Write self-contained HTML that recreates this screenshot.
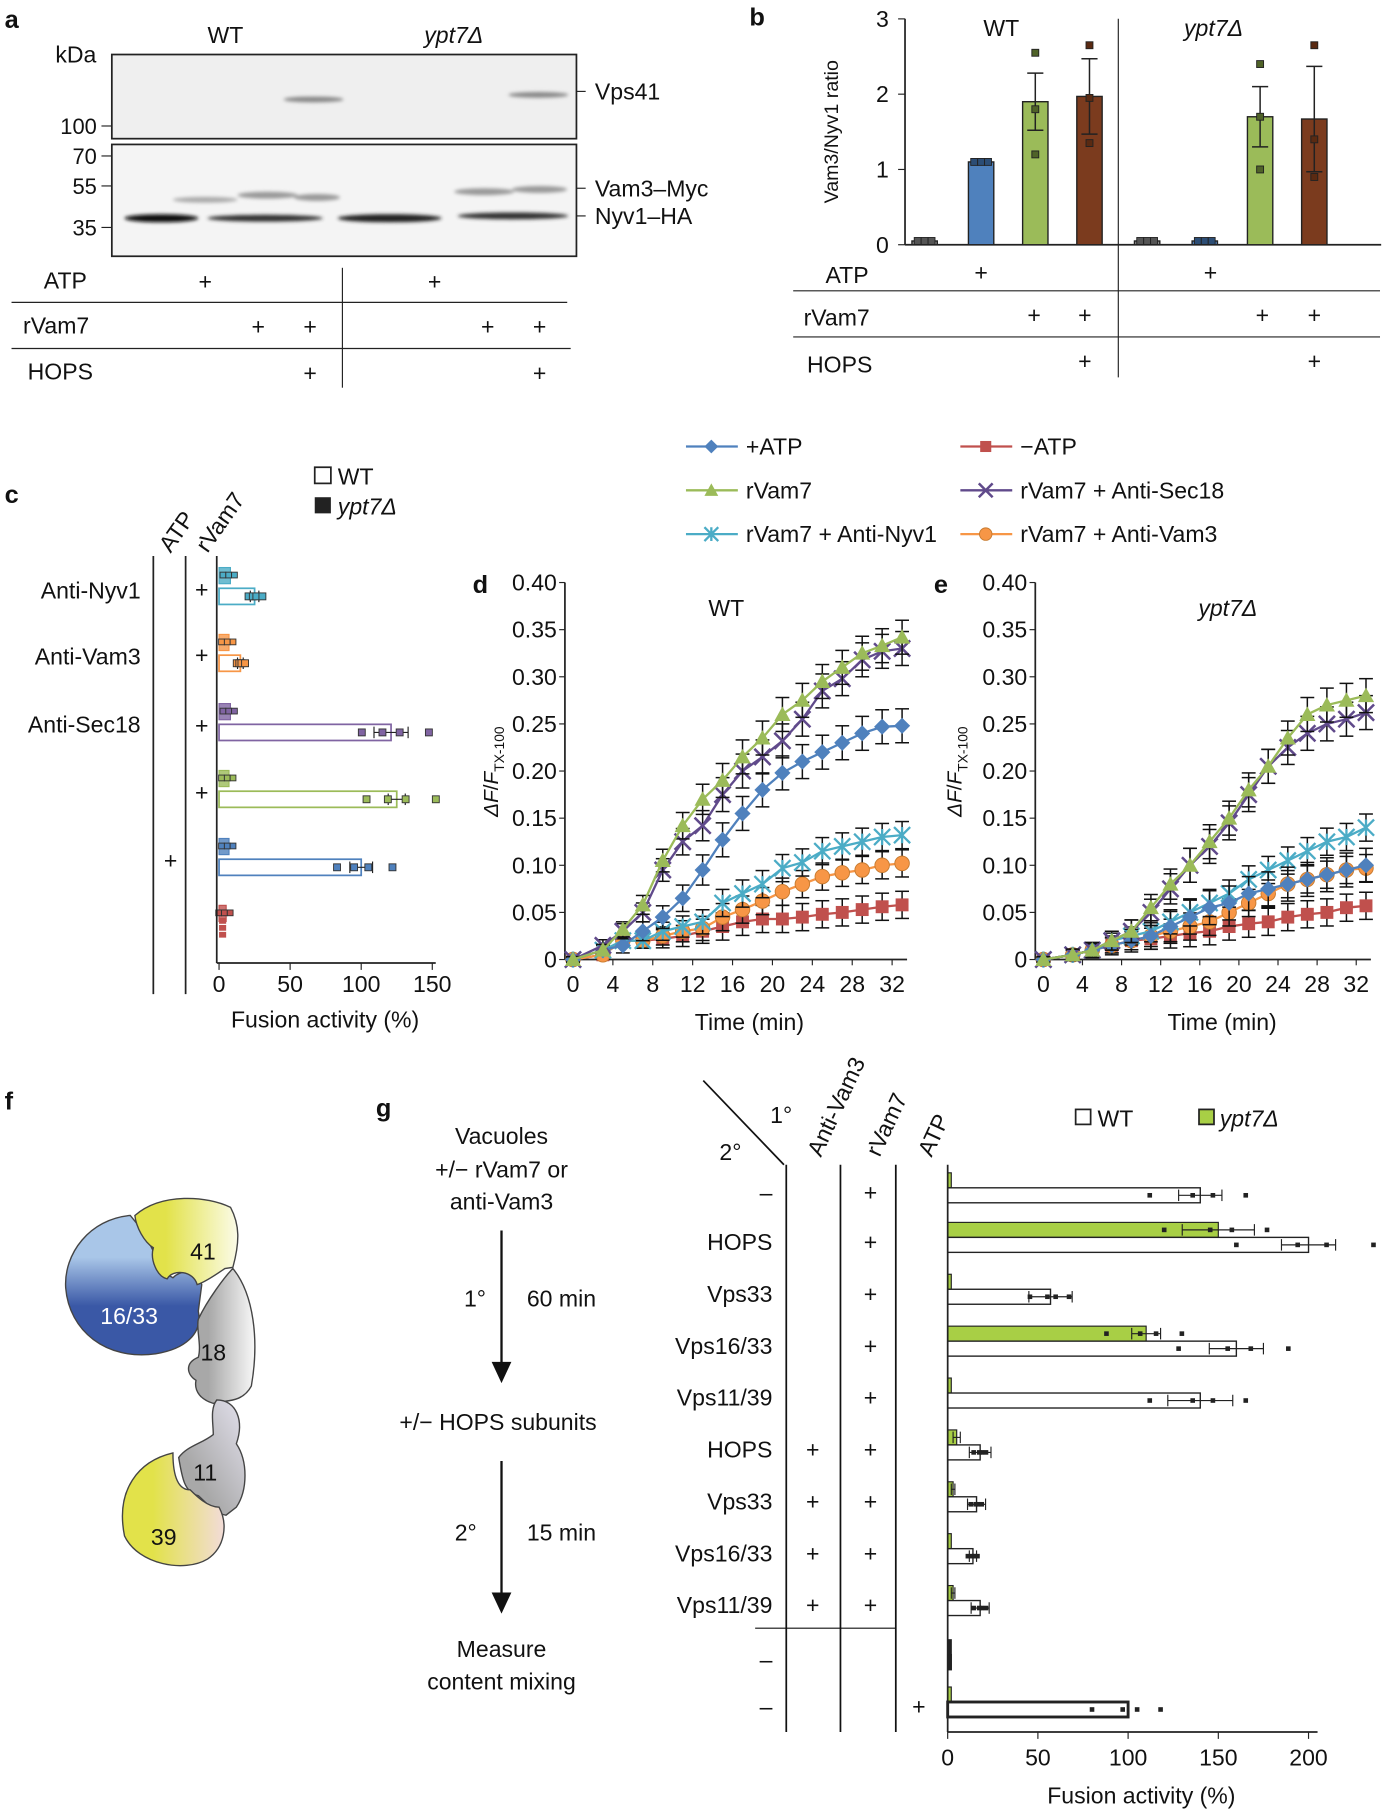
<!DOCTYPE html>
<html><head><meta charset="utf-8"><style>
html,body{margin:0;padding:0;background:#fff}
svg{display:block;font-family:"Liberation Sans",Arial,sans-serif}
</style></head><body>
<svg id="fig" width="1395" height="1813" viewBox="0 0 1210 1568" xmlns="http://www.w3.org/2000/svg">
<defs>
<linearGradient id="gBlue" x1="0" y1="0" x2="0" y2="1"><stop offset="0.3" stop-color="#a9c6e8"/><stop offset="0.65" stop-color="#3a58a6"/></linearGradient>
<linearGradient id="gYel" x1="0" y1="0" x2="1" y2="0"><stop offset="0.3" stop-color="#e2e24a"/><stop offset="1" stop-color="#fbfbe8"/></linearGradient>
<linearGradient id="gYel2" x1="0" y1="0" x2="1" y2="0"><stop offset="0.3" stop-color="#e2e24a"/><stop offset="1" stop-color="#f2dcd8"/></linearGradient>
<linearGradient id="gGrey" x1="0" y1="0" x2="1" y2="0"><stop offset="0.3" stop-color="#a8a8a8"/><stop offset="1" stop-color="#f8f8f8"/></linearGradient>
<linearGradient id="gGrey2" x1="0" y1="1" x2="1" y2="0"><stop offset="0.3" stop-color="#a8a8a8"/><stop offset="1" stop-color="#e4e2ee"/></linearGradient>
<filter id="blur"><feGaussianBlur stdDeviation="1.5"/></filter>
</defs>
<g font-size="20" fill="#111">
<!-- panel a -->
<text x="4" y="22" font-weight="bold" font-size="22">a</text>
<text x="180" y="35">WT</text>
<text x="368" y="35" font-style="italic">ypt7Δ</text>
<text x="48" y="52">kDa</text>
<rect x="97" y="45" width="403" height="73" fill="#efefef" stroke="#222" stroke-width="1.5"/>
<rect x="97" y="123" width="403" height="97" fill="#f4f4f4" stroke="#222" stroke-width="1.5"/>
<g filter="url(#blur)">
<ellipse cx="272" cy="84" rx="26" ry="2.5" fill="#888"/><ellipse cx="467" cy="80" rx="26" ry="2.5" fill="#888"/>
<ellipse cx="178" cy="171" rx="28" ry="2.5" fill="#aaa"/><ellipse cx="232" cy="167" rx="26" ry="3" fill="#999"/><ellipse cx="275" cy="169" rx="20" ry="3" fill="#999"/>
<ellipse cx="420" cy="164" rx="26" ry="3" fill="#999"/><ellipse cx="468" cy="162" rx="24" ry="3" fill="#999"/>
<ellipse cx="140" cy="187" rx="32" ry="3.5" fill="#111"/><ellipse cx="230" cy="187" rx="50" ry="3" fill="#333"/><ellipse cx="338" cy="187" rx="45" ry="3.5" fill="#222"/><ellipse cx="445" cy="185" rx="48" ry="3" fill="#333"/>
</g>
<g font-size="19" text-anchor="end">
<text x="84" y="114">100</text><text x="84" y="140">70</text><text x="84" y="166">55</text><text x="84" y="202">35</text>
</g>
<g stroke="#222"><line x1="88" y1="107" x2="97" y2="107"/><line x1="88" y1="133" x2="97" y2="133"/><line x1="88" y1="159" x2="97" y2="159"/><line x1="88" y1="195" x2="97" y2="195"/>
<line x1="500" y1="77" x2="508" y2="77"/><line x1="500" y1="161" x2="508" y2="161"/><line x1="500" y1="185" x2="508" y2="185"/></g>
<text x="516" y="84">Vps41</text>
<text x="516" y="168">Vam3–Myc</text>
<text x="516" y="192">Nyv1–HA</text>
<g>
<text x="38" y="248">ATP</text><text x="20" y="287">rVam7</text><text x="24" y="327">HOPS</text>
<g text-anchor="middle"><text x="178" y="249">+</text><text x="377" y="249">+</text>
<text x="224" y="288">+</text><text x="269" y="288">+</text><text x="423" y="288">+</text><text x="468" y="288">+</text>
<text x="269" y="328">+</text><text x="468" y="328">+</text></g>
<line x1="10" y1="260" x2="492" y2="260" stroke="#222"/><line x1="10" y1="300" x2="495" y2="300" stroke="#222"/><line x1="297" y1="230" x2="297" y2="334" stroke="#222"/>
</g>
<!-- panel b -->
<text x="650" y="20" font-weight="bold" font-size="22">b</text>
<g id="chartB"></g>
<text transform="translate(727,112) rotate(-90)" text-anchor="middle" font-size="17">Vam3/Nyv1 ratio</text>
<text x="853" y="29">WT</text>
<text x="1027" y="29" font-style="italic">ypt7Δ</text>
<g>
<text x="716" y="243">ATP</text><text x="697" y="280">rVam7</text><text x="700" y="321">HOPS</text>
<g text-anchor="middle"><text x="851" y="241">+</text><text x="1050" y="241">+</text>
<text x="897" y="278">+</text><text x="941" y="278">+</text><text x="1095" y="278">+</text><text x="1140" y="278">+</text>
<text x="941" y="318">+</text><text x="1140" y="318">+</text></g>
<line x1="688" y1="250" x2="1197" y2="250" stroke="#222"/><line x1="688" y1="290" x2="1197" y2="290" stroke="#222"/>
<line x1="970" y1="14" x2="970" y2="325" stroke="#222"/>
</g>
<!-- panel c -->
<text x="4" y="434" font-weight="bold" font-size="22">c</text>
<rect x="273" y="403" width="14" height="14" fill="#fff" stroke="#222" stroke-width="1.5"/>
<text x="293" y="418">WT</text>
<rect x="273" y="429" width="14" height="14" fill="#222"/>
<text x="293" y="444" font-style="italic">ypt7Δ</text>
<text transform="translate(148,478) rotate(-55)">ATP</text>
<text transform="translate(180,478) rotate(-55)">rVam7</text>
<g text-anchor="end">
<text x="122" y="517">Anti-Nyv1</text><text x="122" y="574">Anti-Vam3</text><text x="122" y="633">Anti-Sec18</text>
</g>
<g text-anchor="middle">
<text x="175" y="516">+</text><text x="175" y="573">+</text><text x="175" y="634">+</text><text x="175" y="692">+</text><text x="148" y="751">+</text>
</g>
<line x1="133" y1="480" x2="133" y2="860" stroke="#222" stroke-width="1.5"/>
<line x1="161" y1="480" x2="161" y2="860" stroke="#222" stroke-width="1.5"/>
<g id="chartC"></g>
<text x="282" y="889" text-anchor="middle">Fusion activity (%)</text>
<g id="legendDE"></g>
<text x="410" y="512" font-weight="bold" font-size="22">d</text>
<text x="810" y="512" font-weight="bold" font-size="22">e</text>
<g id="chartD"></g>
<g id="chartE"></g>
<text x="630" y="532" text-anchor="middle">WT</text>
<text x="1065" y="532" text-anchor="middle" font-style="italic">ypt7Δ</text>
<text transform="translate(432,667) rotate(-90)" text-anchor="middle" font-size="18"><tspan font-style="italic">ΔF</tspan>/<tspan font-style="italic">F</tspan><tspan font-size="12" dy="5">TX-100</tspan></text>
<text transform="translate(834,667) rotate(-90)" text-anchor="middle" font-size="18"><tspan font-style="italic">ΔF</tspan>/<tspan font-style="italic">F</tspan><tspan font-size="12" dy="5">TX-100</tspan></text>
<text x="650" y="891" text-anchor="middle">Time (min)</text>
<text x="1060" y="891" text-anchor="middle">Time (min)</text>
<!-- panel f -->
<text x="4" y="960" font-weight="bold" font-size="22">f</text>
<g stroke="#444" stroke-width="1.2">
<path d="M113,1052 C78,1055 55,1085 57,1115 C60,1152 92,1178 135,1172 C160,1168 176,1155 172,1135 L175,1112 C170,1100 158,1098 150,1106 C142,1102 136,1094 134,1085 C128,1072 120,1060 113,1052 Z" fill="url(#gBlue)"/>
<path d="M117,1052 C140,1032 180,1035 200,1045 C208,1060 208,1075 202,1097 L195,1098 C185,1105 177,1110 171,1112 C168,1100 150,1098 145,1107 C136,1105 130,1090 133,1080 C125,1075 118,1062 117,1052 Z" fill="url(#gYel)"/>
<path d="M202,1098 C220,1120 225,1160 218,1200 C210,1215 195,1212 185,1215 C175,1212 168,1205 170,1195 C162,1190 160,1180 172,1175 C175,1165 170,1150 172,1142 C180,1125 195,1105 202,1098 Z" fill="url(#gGrey)"/>
<path d="M188,1212 C205,1212 212,1230 205,1250 C215,1265 215,1290 205,1305 L196,1312 C185,1310 178,1300 172,1295 C160,1292 158,1280 155,1262 C162,1252 175,1250 185,1242 C185,1232 182,1220 188,1212 Z" fill="url(#gGrey2)"/>
<path d="M150,1258 C120,1265 100,1290 108,1330 C120,1355 160,1362 180,1350 C195,1340 198,1320 190,1305 C180,1305 170,1295 165,1290 C155,1290 150,1280 150,1258 Z" fill="url(#gYel2)"/>
</g>
<g text-anchor="middle" font-size="20">
<text x="176" y="1090">41</text><text x="112" y="1146" fill="#fff">16/33</text><text x="185" y="1178">18</text><text x="178" y="1282">11</text><text x="142" y="1338">39</text>
</g>
<!-- panel g -->
<text x="326" y="966" font-weight="bold" font-size="22">g</text>
<g text-anchor="middle">
<text x="435" y="990">Vacuoles</text><text x="435" y="1019">+/− rVam7 or</text><text x="435" y="1047">anti-Vam3</text>
<text x="412" y="1131">1°</text><text x="487" y="1131">60 min</text>
<text x="432" y="1238">+/− HOPS subunits</text>
<text x="404" y="1334">2°</text><text x="487" y="1334">15 min</text>
<text x="435" y="1435">Measure</text><text x="435" y="1463">content mixing</text>
</g>
<g stroke="#111" stroke-width="2">
<line x1="435" y1="1065" x2="435" y2="1185"/><polygon points="428,1180 442,1180 435,1195" fill="#111"/>
<line x1="435" y1="1265" x2="435" y2="1385"/><polygon points="428,1380 442,1380 435,1395" fill="#111"/>
</g>
<line x1="610" y1="935" x2="680" y2="1008" stroke="#111" stroke-width="1.5"/>
<text x="668" y="972">1°</text>
<text x="624" y="1004">2°</text>
<text transform="translate(712,1002) rotate(-65)">Anti-Vam3</text>
<text transform="translate(763,1002) rotate(-65)">rVam7</text>
<text transform="translate(808,1002) rotate(-65)">ATP</text>
<line x1="682" y1="1008" x2="682" y2="1500" stroke="#111" stroke-width="1.5"/>
<line x1="729" y1="1008" x2="729" y2="1500" stroke="#111" stroke-width="1.5"/>
<line x1="777" y1="1008" x2="777" y2="1500" stroke="#111" stroke-width="1.5"/>
<line x1="655" y1="1410" x2="777" y2="1410" stroke="#111" stroke-width="1"/>
<rect x="933" y="960" width="13" height="13" fill="#fff" stroke="#222" stroke-width="1.5"/>
<text x="952" y="975">WT</text>
<rect x="1040" y="960" width="13" height="13" fill="#a8cf45" stroke="#222" stroke-width="1.5"/>
<text x="1058" y="975" font-style="italic">ypt7Δ</text>
<g id="chartG"></g>
<text x="990" y="1562" text-anchor="middle">Fusion activity (%)</text>
</g>
<script>
var NS="http://www.w3.org/2000/svg";
function mk(p,tag,a){var e=document.createElementNS(NS,tag);for(var k in a)e.setAttribute(k,a[k]);p.appendChild(e);return e;}

// ---- panel b data ----
var bCats=["WT-none","WT-ATP","WT-rVam7","WT-rVam7-HOPS","ypt7-none","ypt7-ATP","ypt7-rVam7","ypt7-rVam7-HOPS"];
var bValues=[0.05,1.1,1.9,1.97,0.05,0.05,1.7,1.67];
var bErrors=[0,0,0.38,0.5,0,0,0.4,0.7];
var bPts1=[0.05,1.1,2.55,2.65,0.05,0.05,2.4,2.65];
var bPts2=[0.05,1.1,1.8,1.95,0.05,0.05,1.7,1.4];
var bPts3=[0.05,1.1,1.2,1.35,0.05,0.05,1.0,0.9];
var bTicks=[0,1,2,3];
var bColors=["#888","#4f81bd","#9bbb59","#7b3b1e","#888","#4f81bd","#9bbb59","#7b3b1e"];
var bPtColors=["#555","#2c4d75","#4f6228","#5a2a12","#555","#2c4d75","#4f6228","#5a2a12"];
(function(){
 var g=document.getElementById("chartB");
 var x0=785,y0=210,ppu=65.3;
 function yb(v){return y0-v*ppu;}
 var cx=[802,851,898,945,995,1045,1093,1140];
 var ax=mk(g,"line",{x1:x0,y1:14,x2:x0,y2:y0,stroke:"#222","stroke-width":1.5});
 
 
 mk(g,"line",{x1:x0,y1:y0,x2:1198,y2:y0,stroke:"#222","stroke-width":1.5});
 bTicks.forEach(function(t){
  mk(g,"line",{x1:x0-6,y1:yb(t),x2:x0,y2:yb(t),stroke:"#222"});
  var tx=mk(g,"text",{x:x0-14,y:yb(t)+7,"text-anchor":"end"});tx.textContent=t;
  
  
 });
 bValues.forEach(function(v,i){
  var w=22;
  var r=mk(g,"rect",{x:cx[i]-w/2,y:yb(v),width:w,height:v*ppu,fill:bColors[i],stroke:"#222","stroke-width":1.2});
  
  
  if(bErrors[i]>0){
   var t=yb(v+bErrors[i]),b=yb(v-bErrors[i]);
   mk(g,"line",{x1:cx[i],y1:t,x2:cx[i],y2:b,stroke:"#222","stroke-width":1.3});
   mk(g,"line",{x1:cx[i]-7,y1:t,x2:cx[i]+7,y2:t,stroke:"#222","stroke-width":1.3});
   mk(g,"line",{x1:cx[i]-7,y1:b,x2:cx[i]+7,y2:b,stroke:"#222","stroke-width":1.3});
  }
  [bPts1[i],bPts2[i],bPts3[i]].forEach(function(p,j){
   var dx=(i%4<2)?(j-1)*6:0;
   mk(g,"rect",{x:cx[i]+dx-3,y:yb(p)-3,width:6,height:6,fill:bPtColors[i],stroke:"#222","stroke-width":0.8});
  });
 });
})();

// ---- panel c data ----
var cRows=["Anti-Nyv1","Anti-Vam3","Anti-Sec18","rVam7","ATP","minus-ATP"];
var cWT=[25,15,121,125,100,5];
var cYpt=[8,7,8,7,7,5];
var cWTerr=[3,2,12,6,8,1];
var cTicks=[0,50,100,150];
var cColors=["#4bacc6","#f79646","#8064a2","#9bbb59","#4f81bd","#c0504d"];
(function(){
 var g=document.getElementById("chartC");
 var x0=190,pp=1.233;
 function xc(v){return x0+v*pp;}
 var rowY=[497,555,615,673,732,790];
 rowY.forEach(function(y,i){
  var r1=mk(g,"rect",{x:x0,y:y-7,width:cYpt[i]*pp,height:14,fill:cColors[i],"fill-opacity":0.8,stroke:cColors[i]});
  
  
  for(var k=0;k<3;k++)mk(g,"rect",{x:xc(cYpt[i])-9+k*5,y:y-3,width:5,height:5,fill:cColors[i],stroke:"#333","stroke-width":0.8});
  if(i<5){
   var r2=mk(g,"rect",{x:x0,y:y+11,width:cWT[i]*pp,height:14,fill:"#fff",stroke:cColors[i],"stroke-width":1.5});
   
   
   var e1=xc(cWT[i]-cWTerr[i]),e2=xc(cWT[i]+cWTerr[i]),ym=y+18;
   mk(g,"line",{x1:e1,y1:ym,x2:e2,y2:ym,stroke:"#222"});
   mk(g,"line",{x1:e1,y1:ym-5,x2:e1,y2:ym+5,stroke:"#222"});
   mk(g,"line",{x1:e2,y1:ym-5,x2:e2,y2:ym+5,stroke:"#222"});
   [0.83,0.95,1.05,1.22].forEach(function(f){
    mk(g,"rect",{x:xc(cWT[i]*f)-3,y:ym-3,width:6,height:6,fill:cColors[i],stroke:"#333","stroke-width":0.8});
   });
  } else {
   for(var k=0;k<3;k++)mk(g,"rect",{x:x0,y:y+4+k*6,width:cWT[i]*pp,height:5,fill:cColors[i]});
  }
 });
 mk(g,"line",{x1:x0-2,y1:480,x2:x0-2,y2:833,stroke:"#222","stroke-width":1.5});
 mk(g,"line",{x1:x0-2,y1:833,x2:xc(150)+3,y2:833,stroke:"#222","stroke-width":1.5});
 cTicks.forEach(function(t){
  mk(g,"line",{x1:xc(t),y1:833,x2:xc(t),y2:839,stroke:"#222"});
  var tx=mk(g,"text",{x:xc(t),y:858,"text-anchor":"middle"});tx.textContent=t;
  
  
 });
})();

// ---- panels d/e data ----
var times=[0,3,5,7,9,11,13,15,17,19,21,23,25,27,29,31,33];
var seriesNames=["+ATP","rVam7","rVam7 + Anti-Nyv1","−ATP","rVam7 + Anti-Sec18","rVam7 + Anti-Vam3"];
var dATP=[0,0.01,0.015,0.03,0.045,0.065,0.095,0.127,0.155,0.18,0.198,0.21,0.22,0.23,0.24,0.247,0.248];
var dVam7=[0,0.01,0.032,0.058,0.105,0.142,0.17,0.19,0.215,0.235,0.26,0.275,0.295,0.31,0.325,0.333,0.342];
var dNyv1=[0,0.01,0.02,0.02,0.03,0.035,0.04,0.06,0.07,0.08,0.097,0.103,0.115,0.12,0.125,0.13,0.132];
var dNoATP=[0,0.005,0.02,0.02,0.022,0.025,0.03,0.035,0.04,0.043,0.043,0.045,0.048,0.05,0.053,0.056,0.058];
var dSec18=[0,0.015,0.03,0.05,0.095,0.125,0.142,0.175,0.2,0.215,0.232,0.255,0.285,0.298,0.318,0.327,0.33];
var dVam3=[0,0.005,0.02,0.02,0.025,0.03,0.033,0.045,0.053,0.062,0.072,0.08,0.088,0.092,0.095,0.1,0.102];
var eATP=[0,0.005,0.01,0.015,0.02,0.025,0.035,0.045,0.055,0.06,0.07,0.075,0.08,0.085,0.09,0.095,0.1];
var eVam7=[0,0.005,0.01,0.02,0.03,0.055,0.08,0.1,0.125,0.15,0.18,0.205,0.235,0.26,0.27,0.275,0.28];
var eNyv1=[0,0.005,0.01,0.02,0.025,0.03,0.04,0.05,0.06,0.07,0.085,0.095,0.105,0.115,0.125,0.13,0.14];
var eNoATP=[0,0.005,0.01,0.015,0.02,0.022,0.025,0.028,0.03,0.035,0.038,0.04,0.045,0.048,0.05,0.055,0.057];
var eSec18=[0,0.005,0.01,0.02,0.03,0.05,0.075,0.1,0.12,0.145,0.175,0.205,0.225,0.24,0.25,0.255,0.262];
var eVam3=[0,0.005,0.01,0.015,0.02,0.025,0.03,0.035,0.04,0.05,0.06,0.07,0.08,0.085,0.09,0.095,0.097];
var deErr=[0.003,0.006,0.008,0.01,0.012,0.014,0.016,0.018,0.018,0.018,0.018,0.018,0.018,0.018,0.018,0.018,0.018];
var yTicksDE=[0,0.05,0.10,0.15,0.20,0.25,0.30,0.35,0.40];
var xTicksDE=[0,4,8,12,16,20,24,28,32];
var deColors=["#4f81bd","#9bbb59","#4bacc6","#c0504d","#604a8b","#f79646"];
var deMarkers=["diamond","triangle","star","square","x","circle"];
function marker(g,type,x,y,c,s){
 s=s||7;var e;
 if(type=="diamond")e=mk(g,"polygon",{points:[x,y-s,x+s,y,x,y+s,x-s,y].join(","),fill:c});
 else if(type=="triangle")e=mk(g,"polygon",{points:[x,y-s,x+s,y+s*0.8,x-s,y+s*0.8].join(","),fill:c});
 else if(type=="square")e=mk(g,"rect",{x:x-s*0.8,y:y-s*0.8,width:s*1.6,height:s*1.6,fill:c});
 else if(type=="circle")e=mk(g,"circle",{cx:x,cy:y,r:s*0.9,fill:c,stroke:"#c77a2e","stroke-width":0.8});
 else if(type=="x"){e=mk(g,"path",{d:"M"+(x-s)+","+(y-s)+"L"+(x+s)+","+(y+s)+"M"+(x-s)+","+(y+s)+"L"+(x+s)+","+(y-s),stroke:c,"stroke-width":2.2,fill:"none"});}
 else {e=mk(g,"path",{d:"M"+(x-s)+","+(y-s)+"L"+(x+s)+","+(y+s)+"M"+(x-s)+","+(y+s)+"L"+(x+s)+","+(y-s)+"M"+x+","+(y-s)+"L"+x+","+(y+s),stroke:c,"stroke-width":2,fill:"none"});}
 return e;
}
function drawDE(id,ax,x0,xpp,sets){
 var g=document.getElementById(id);
 var y0=830,ypp=817.5;
 function X(t){return x0+t*xpp;}
 function Y(v){return y0-v*ypp;}
 mk(g,"line",{x1:ax,y1:503,x2:ax,y2:y0,stroke:"#222","stroke-width":1.5});
 mk(g,"line",{x1:ax,y1:y0,x2:X(33.5),y2:y0,stroke:"#222","stroke-width":1.5});
 yTicksDE.forEach(function(t){
  mk(g,"line",{x1:ax-5,y1:Y(t),x2:ax,y2:Y(t),stroke:"#222"});
  var tx=mk(g,"text",{x:ax-7,y:Y(t)+7,"text-anchor":"end"});tx.textContent=t==0?"0":t.toFixed(2);
  
  
 });
 xTicksDE.forEach(function(t){
  mk(g,"line",{x1:X(t),y1:y0,x2:X(t),y2:y0+5,stroke:"#222"});
  var tx=mk(g,"text",{x:X(t),y:y0+28,"text-anchor":"middle"});tx.textContent=t;
  
  
 });
 var order=[3,5,2,0,4,1];
 order.forEach(function(si){
  var vals=sets[si];
  var sg=mk(g,"g",{});
  
  
  vals.forEach(function(v,i){
   var e=deErr[i]*(si==1||si==4||si==0?1:0.8);
   var xx=X(times[i]);
   mk(sg,"line",{x1:xx,y1:Y(v+e),x2:xx,y2:Y(v-e),stroke:"#111","stroke-width":1.3});
   mk(sg,"line",{x1:xx-6,y1:Y(v+e),x2:xx+6,y2:Y(v+e),stroke:"#111","stroke-width":1.3});
   mk(sg,"line",{x1:xx-6,y1:Y(v-e),x2:xx+6,y2:Y(v-e),stroke:"#111","stroke-width":1.3});
  });
  var pts=vals.map(function(v,i){return X(times[i])+","+Y(v);}).join(" ");
  mk(sg,"polyline",{points:pts,fill:"none",stroke:deColors[si],"stroke-width":2});
  vals.forEach(function(v,i){marker(sg,deMarkers[si],X(times[i]),Y(v),deColors[si]);});
 });
}
drawDE("chartD",490,497,8.65,[dATP,dVam7,dNyv1,dNoATP,dSec18,dVam3]);
drawDE("chartE",898,905,8.48,[eATP,eVam7,eNyv1,eNoATP,eSec18,eVam3]);
(function(){
 var g=document.getElementById("legendDE");
 var pos=[[595,385],[595,423],[595,461],[833,385],[833,423],[833,461]];
 seriesNames.forEach(function(n,i){
  var p=pos[i];
  mk(g,"line",{x1:p[0],y1:p[1],x2:p[0]+45,y2:p[1],stroke:deColors[i],"stroke-width":2});
  marker(g,deMarkers[i],p[0]+22,p[1],deColors[i],6);
  var t=mk(g,"text",{x:p[0]+52,y:p[1]+7});t.textContent=n;
  
  
 });
})();

// ---- panel g data ----
var gRows=["–","HOPS","Vps33","Vps16/33","Vps11/39","HOPS","Vps33","Vps16/33","Vps11/39","–","–"];
var gWT=[140,200,57,160,140,18,16,14,18,2,100];
var gYpt=[2,150,2,110,2,5,3,2,3,2,2];
var gWTerr=[12,15,12,15,18,6,5,2,5,0,0];
var gYptErr=[0,20,0,8,0,2,1,0,1,0,0];
var gTicks=[0,50,100,150,200];
(function(){
 var g=document.getElementById("chartG");
 var x0=822,pp=1.565;
 function X(v){return x0+v*pp;}
 var rowY=[1032,1075,1120,1165,1210,1255,1300,1345,1390,1437,1478];
 var rvam=[1,1,1,1,1,1,1,1,1,0,0],anti=[0,0,0,0,0,1,1,1,1,0,0],atp=[0,0,0,0,0,0,0,0,0,0,1];
 rowY.forEach(function(y,i){
  var lab=mk(g,"text",{x:670,y:y+7,"text-anchor":"end"});lab.textContent=gRows[i];
  
  
  if(rvam[i]){var t=mk(g,"text",{x:755,y:y+7,"text-anchor":"middle"});t.textContent="+";}
  if(anti[i]){var t2=mk(g,"text",{x:705,y:y+7,"text-anchor":"middle"});t2.textContent="+";}
  if(atp[i]){var t3=mk(g,"text",{x:797,y:y+7,"text-anchor":"middle"});t3.textContent="+";}
  var yb=mk(g,"rect",{x:x0,y:y-17,width:gYpt[i]*pp,height:13,fill:i==9?"#222":"#a8cf45",stroke:"#222","stroke-width":1});
  
  
  var wb=mk(g,"rect",{x:x0,y:y-4,width:gWT[i]*pp,height:13,fill:i==9?"#222":"#fff",stroke:"#222","stroke-width":i==10?2.5:1.2});
  
  
  [[gWT[i],gWTerr[i],y+2.5],[gYpt[i],gYptErr[i],y-10.5]].forEach(function(b){
   if(b[1]>0){var a=X(b[0]-b[1]),c=X(b[0]+b[1]);
    mk(g,"line",{x1:a,y1:b[2],x2:c,y2:b[2],stroke:"#222"});
    mk(g,"line",{x1:a,y1:b[2]-5,x2:a,y2:b[2]+5,stroke:"#222"});
    mk(g,"line",{x1:c,y1:b[2]-5,x2:c,y2:b[2]+5,stroke:"#222"});}
   if(b[0]>5){[0.8,0.97,1.05,1.18].forEach(function(f){mk(g,"rect",{x:X(b[0]*f)-2,y:b[2]-2,width:4,height:4,fill:"#222"});});}
  });
 });
 mk(g,"line",{x1:x0,y1:1008,x2:x0,y2:1500,stroke:"#222","stroke-width":1.5});
 mk(g,"line",{x1:x0,y1:1500,x2:X(205),y2:1500,stroke:"#222","stroke-width":1.5});
 gTicks.forEach(function(t){
  mk(g,"line",{x1:X(t),y1:1500,x2:X(t),y2:1506,stroke:"#222"});
  var tx=mk(g,"text",{x:X(t),y:1529,"text-anchor":"middle"});tx.textContent=t;
  
  
 });
})();
</script>
</svg>
</body></html>
